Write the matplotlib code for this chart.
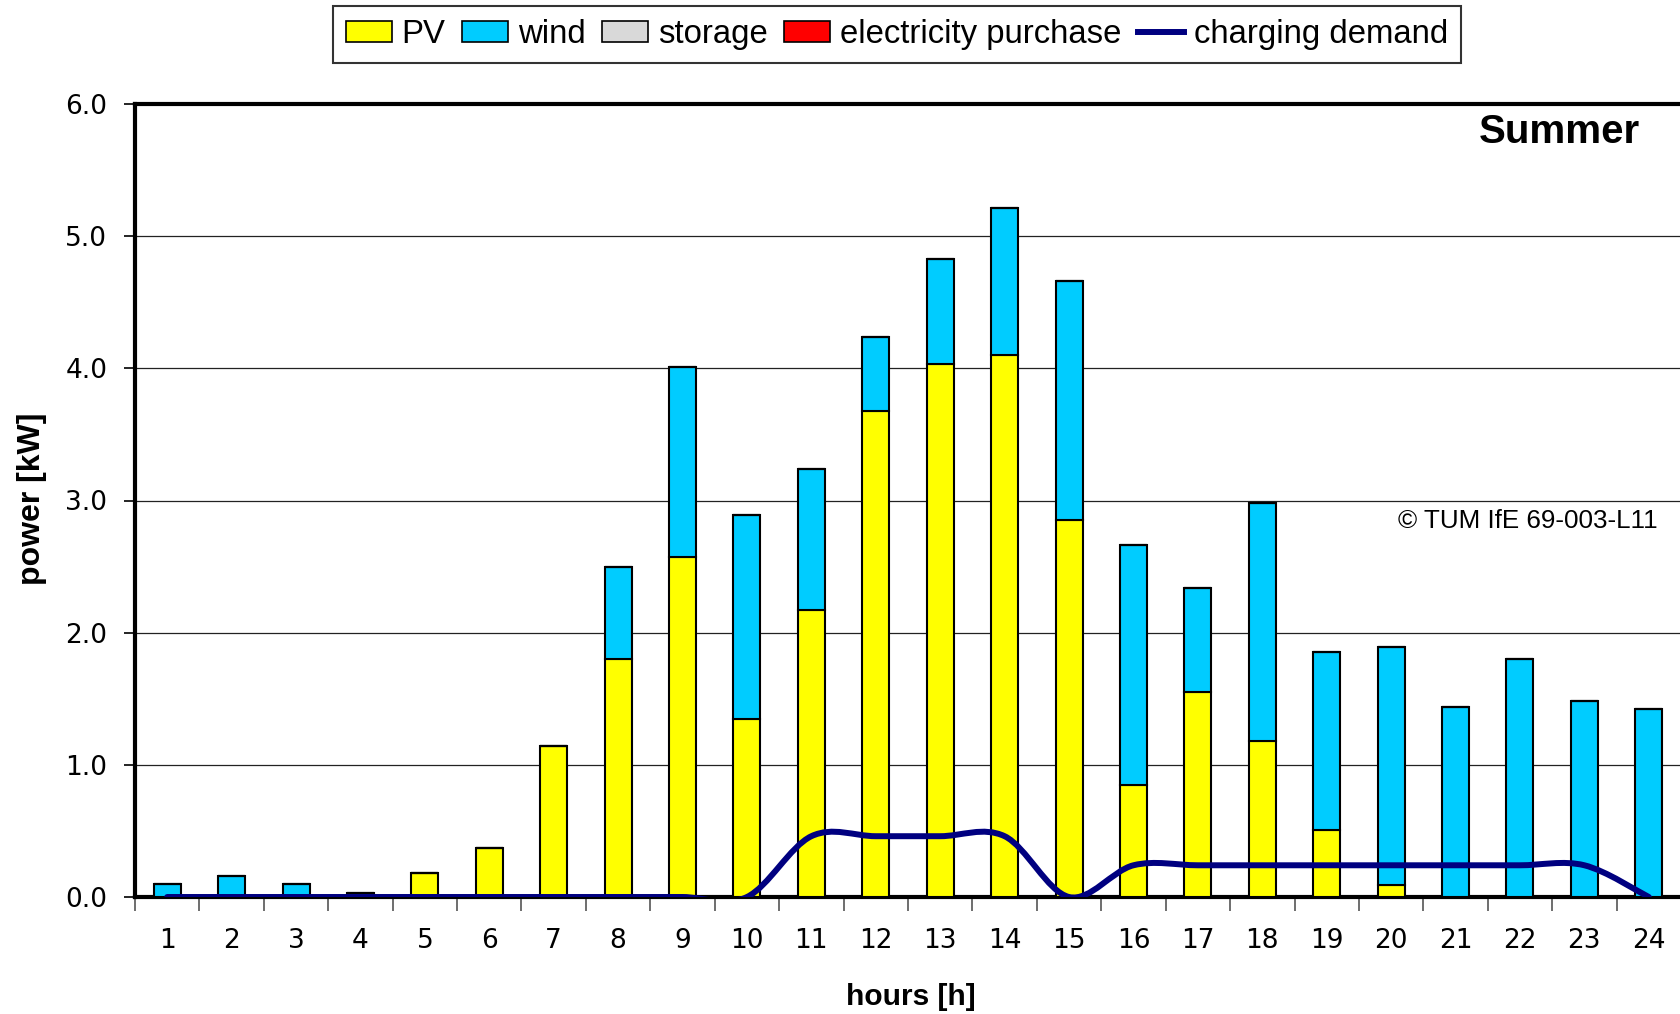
import numpy as np
import matplotlib
matplotlib.use("Agg")
import matplotlib.pyplot as plt
from matplotlib.path import Path
from matplotlib.patches import PathPatch, Patch
from matplotlib.lines import Line2D

hours = list(range(1, 25))
pv = [0, 0, 0, 0, 0.18, 0.37, 1.14, 1.80, 2.57, 1.35, 2.17, 3.68,
      4.03, 4.10, 2.85, 0.85, 1.55, 1.18, 0.51, 0.09, 0, 0, 0, 0]
wind = [0.10, 0.16, 0.10, 0.03, 0, 0, 0, 0.70, 1.44, 1.54, 1.07, 0.56,
        0.80, 1.11, 1.81, 1.81, 0.79, 1.80, 1.34, 1.80, 1.44, 1.80, 1.48, 1.42]
storage = [0] * 24
purchase = [0] * 24
demand = [0, 0, 0, 0, 0, 0, 0, 0, 0, 0, 0.46, 0.46, 0.46, 0.46, 0,
          0.24, 0.24, 0.24, 0.24, 0.24, 0.24, 0.24, 0.24, 0]
yticks = [0.0, 1.0, 2.0, 3.0, 4.0, 5.0, 6.0]

C_PV, C_WIND, C_STO, C_BUY, C_DEM = "#FFFF00", "#00CCFF", "#D9D9D9", "#FF0000", "#000080"
FONT = ["Liberation Sans", "DejaVu Sans"]
TICKFONT = ["DejaVu Sans"]
plt.rcParams["font.family"] = FONT

fig = plt.figure(figsize=(16.81, 10.14), dpi=100)
ax = fig.add_axes([135 / 1681, 117 / 1014, 1546 / 1681, 793 / 1014])

x = np.array(hours, dtype=float)
w = 0.42
ekw = dict(edgecolor="black", linewidth=1.5, width=w, zorder=3)
b0 = np.zeros(24)
ax.bar(x, pv, bottom=b0, color=C_PV, **ekw)
b1 = b0 + np.array(pv)
ax.bar(x, wind, bottom=b1, color=C_WIND, **ekw)
b2 = b1 + np.array(wind)
ax.bar(x, storage, bottom=b2, color=C_STO, **ekw)
b3 = b2 + np.array(storage)
ax.bar(x, purchase, bottom=b3, color=C_BUY, **ekw)

# smoothed demand line (Catmull-Rom style bezier through hourly values)
p = np.array(demand, dtype=float)
n = len(p)
verts = [(x[0], p[0])]
codes = [Path.MOVETO]
for i in range(n - 1):
    pm = p[i - 1] if i > 0 else p[i]
    pn2 = p[i + 2] if i + 2 < n else p[i + 1]
    xm = x[i - 1] if i > 0 else x[i]
    xn2 = x[i + 2] if i + 2 < n else x[i + 1]
    c1 = (x[i] + (x[i + 1] - xm) / 6, p[i] + (p[i + 1] - pm) / 6)
    c2 = (x[i + 1] - (xn2 - x[i]) / 6, p[i + 1] - (pn2 - p[i]) / 6)
    verts += [c1, c2, (x[i + 1], p[i + 1])]
    codes += [Path.CURVE4] * 3
ax.add_patch(PathPatch(Path(verts, codes), fill=False, edgecolor=C_DEM,
                       linewidth=4.3, zorder=5, capstyle="round", joinstyle="round"))

ax.set_ylim(0, 6)
ax.set_xlim(0.5, 24.23)
ax.set_yticks(yticks)
ax.set_yticklabels([f"{v:.1f}" for v in yticks], fontsize=19, family=TICKFONT)
ax.yaxis.grid(True, color="#222222", linewidth=0.9, zorder=0)
ax.set_axisbelow(True)

ax.set_xticks(np.arange(0.5, 25, 1))
ax.set_xticklabels([])
ax.set_xticks(x, minor=True)
ax.set_xticklabels([str(h) for h in hours], minor=True, fontsize=19, family=TICKFONT)
ax.tick_params(axis="x", which="major", length=10, width=1.2, color="#555555", direction="out")
ax.tick_params(axis="x", which="minor", length=0, pad=22)
ax.tick_params(axis="y", which="major", length=8, width=1.2, direction="out", pad=12)

for s in ["left", "top", "bottom"]:
    ax.spines[s].set_linewidth(3)
    ax.spines[s].set_color("black")
ax.spines["right"].set_visible(False)

fig.text(32 / 1681, 1 - 499 / 1014, "power [kW]", rotation=90, ha="center", va="center",
         fontsize=23, fontweight="bold")
fig.text(911 / 1681, 1 - 997 / 1014, "hours [h]", ha="center", va="center",
         fontsize=21.5, fontweight="bold")

fig.text(1640 / 1681, 1 - 132 / 1014, "Summer", ha="right", va="center",
         fontsize=29, fontweight="bold")
fig.text(1658 / 1681, 1 - 521 / 1014, "\u00a9 TUM IfE 69-003-L11", ha="right", va="center",
         fontsize=18.7)

handles = [Patch(facecolor=C_PV, edgecolor="black", linewidth=1.2),
           Patch(facecolor=C_WIND, edgecolor="black", linewidth=1.2),
           Patch(facecolor=C_STO, edgecolor="black", linewidth=1.2),
           Patch(facecolor=C_BUY, edgecolor="black", linewidth=1.2),
           Line2D([0], [0], color=C_DEM, linewidth=4.3)]
labels = ["PV", "wind", "storage", "electricity purchase", "charging demand"]
leg = fig.legend(handles, labels, loc="upper center", bbox_to_anchor=(897 / 1681, 1 - 6 / 1014),
                 ncol=5, frameon=True, fancybox=False, edgecolor="black",
                 handlelength=1.4, handleheight=0.6, handletextpad=0.3, columnspacing=0.5,
                 borderpad=0.4, borderaxespad=0, prop={"size": 23.7})
leg.get_frame().set_linewidth(1.5)

fig.savefig("out.png", dpi=100, facecolor="white")
